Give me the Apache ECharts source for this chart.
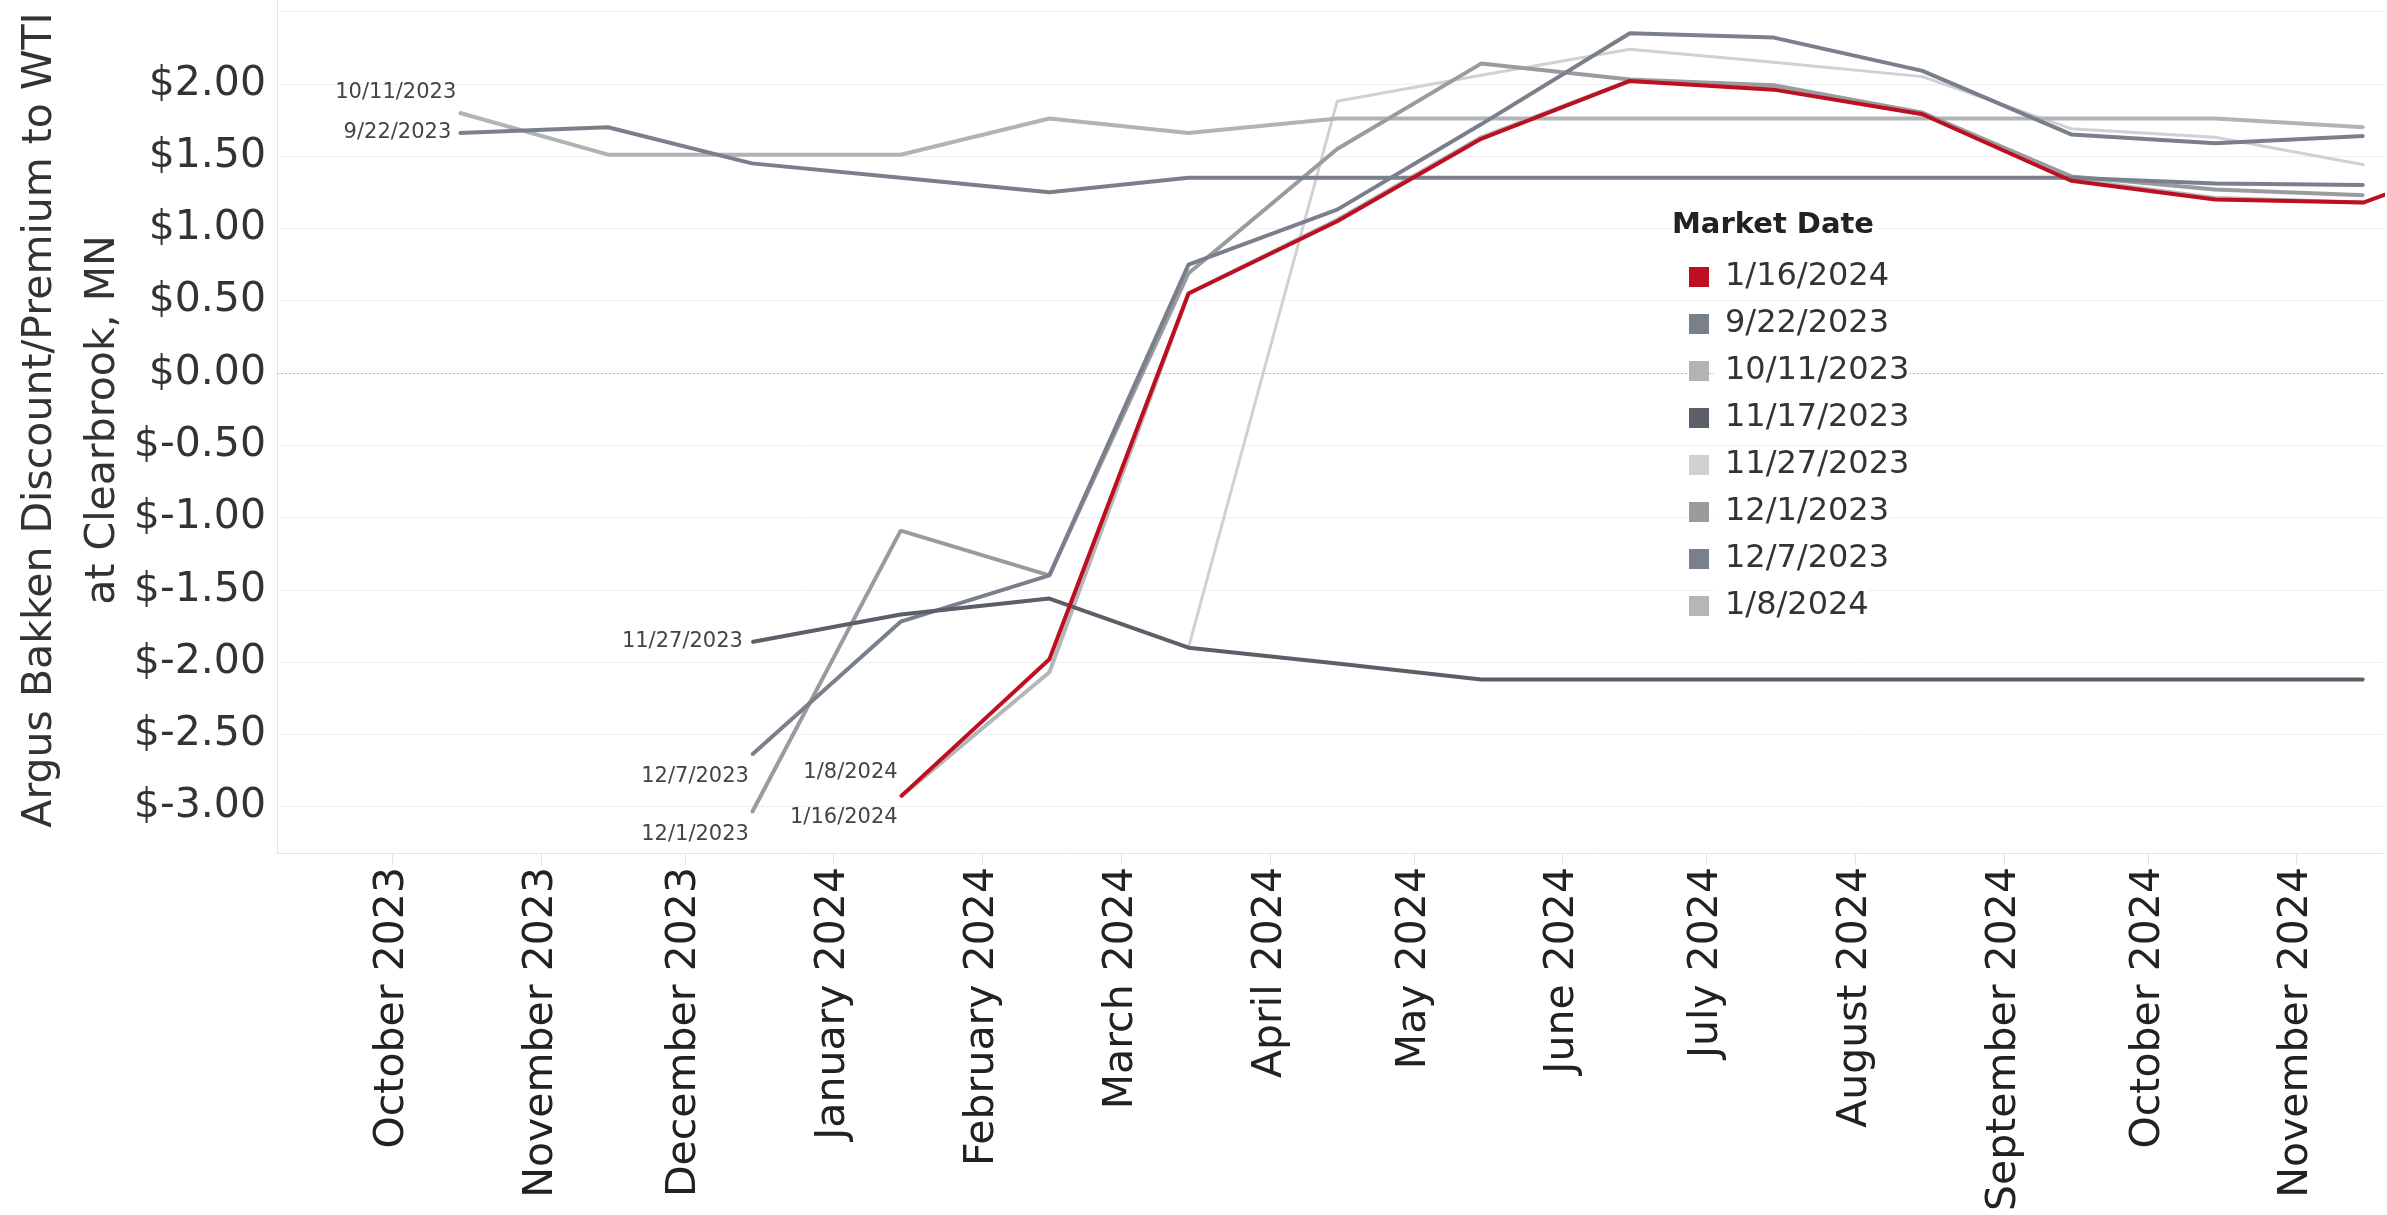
<!DOCTYPE html>
<html>
<head>
<meta charset="utf-8">
<title>Argus Bakken Discount/Premium to WTI at Clearbrook, MN</title>
<script src="https://cdn.jsdelivr.net/npm/echarts@6/dist/echarts.min.js"></script>
<style>
  html, body { margin: 0; padding: 0; background: #fff; }
  #chart { width: 2387px; height: 1215px; }
</style>
</head>
<body>
<div id="chart"></div>
<script>
// delivery months, plotted mid-month on a continuous date axis
var months = ['2023-10-15', '2023-11-15', '2023-12-15', '2024-01-15', '2024-02-15', '2024-03-15',
  '2024-04-15', '2024-05-15', '2024-06-15', '2024-07-15', '2024-08-15', '2024-09-15',
  '2024-10-15', '2024-11-15', '2024-12-15'];

var monthNames = ['January', 'February', 'March', 'April', 'May', 'June', 'July',
  'August', 'September', 'October', 'November', 'December'];

// legend order
var marketDates = ['1/16/2024', '9/22/2023', '10/11/2023', '11/17/2023', '11/27/2023', '12/1/2023', '12/7/2023', '1/8/2024'];

// $/bbl, one value per month above (null = no quote)
var md0116 = [null, null, null, -2.93, -1.98, 0.55, 1.05, 1.62, 2.02, 1.96, 1.79, 1.33, 1.20, 1.18, 1.55];
var md0922 = [1.66, 1.70, 1.45, 1.35, 1.25, 1.35, 1.35, 1.35, 1.35, 1.35, 1.35, 1.35, 1.31, 1.30, null];
var md1011 = [1.80, 1.51, 1.51, 1.51, 1.76, 1.66, 1.76, 1.76, 1.76, 1.76, 1.76, 1.76, 1.76, 1.70, null];
var md1117 = [null, null, -1.86, -1.67, -1.56, -1.90, -2.01, -2.12, -2.12, -2.12, -2.12, -2.12, -2.12, -2.12, null];
var md1127 = [null, null, -1.86, -1.67, -1.56, -1.90, 1.88, 2.06, 2.24, 2.15, 2.05, 1.69, 1.63, 1.44, null];
var md1201 = [null, null, -3.04, -1.09, -1.40, 0.69, 1.55, 2.14, 2.03, 1.99, 1.80, 1.36, 1.27, 1.23, null];
var md1207 = [null, null, -2.64, -1.72, -1.40, 0.75, 1.13, 1.72, 2.35, 2.32, 2.09, 1.65, 1.59, 1.64, null];
var md0108 = [null, null, null, -2.93, -2.07, 0.55, 1.06, 1.63, 2.02, 1.98, 1.80, 1.34, 1.21, 1.18, null];

var values = [md0116, md0922, md1011, md1117, md1127, md1201, md1207, md0108];
var colors = ['#bd0f1f', '#7a808b', '#b2b3b5', '#5c5f68', '#d0d1d2', '#9a9b9f', '#79808c', '#b5b6b8'];

// where the start-of-line date label goes (null = hidden, like the reference)
var startLabels = [
  { dx: 0, dy: 21, dist: 2 },
  { dx: 0, dy: 0, dist: 7 },
  { dx: 0, dy: -20, dist: 2 },
  null,
  { dx: 0, dy: 0, dist: 8 },
  { dx: 0, dy: 22, dist: 2 },
  { dx: 0, dy: 22, dist: 2 },
  { dx: 0, dy: -24, dist: 2 }
];

// paint order, bottom to top
var drawOrder = [4, 2, 7, 5, 1, 6, 3, 0];

var FONT = '"DejaVu Sans", Verdana, sans-serif';
var DAY = 86400000;

function buildData(idx) {
  var out = [];
  values[idx].forEach(function (v, i) {
    if (v === null) return;
    var item = { value: [months[i], v] };
    if (out.length === 0 && startLabels[idx]) {
      var lb = startLabels[idx];
      item.label = {
        show: true, position: 'left', distance: lb.dist, offset: [lb.dx, lb.dy],
        formatter: marketDates[idx], fontSize: 21, color: '#444', fontFamily: FONT
      };
    }
    out.push(item);
  });
  return out;
}

var series = drawOrder.map(function (idx, k) {
  var s = {
    name: marketDates[idx],
    type: 'line',
    data: buildData(idx),
    color: colors[idx],
    showSymbol: true,
    symbol: 'circle',
    symbolSize: 2,
    itemStyle: { color: colors[idx] },
    lineStyle: { color: colors[idx], width: idx === 4 ? 3 : 4 },
    label: { show: false },
    emphasis: { disabled: true },
    z: 2 + k * 0.01
  };
  if (k === 0) {
    // dotted zero reference line
    s.markLine = {
      silent: true, z: 1, symbol: ['none', 'none'],
      label: { show: false },
      lineStyle: { type: [2, 2], color: '#bdbdbd', width: 1 },
      data: [{ yAxis: 0 }]
    };
  }
  return s;
});

var chart = echarts.init(document.getElementById('chart'));
chart.setOption({
  animation: false,
  backgroundColor: '#ffffff',
  grid: { left: 277, right: 4, top: 0, bottom: 362, containLabel: false },
  xAxis: {
    type: 'time',
    min: new Date(2023, 8, 7).getTime(),
    max: new Date(2024, 10, 19).getTime(),
    splitNumber: 10,
    minInterval: 32 * DAY,
    maxInterval: 60 * DAY,
    axisLine: { show: true, onZero: false, lineStyle: { color: '#e4e4e4', width: 1 } },
    axisTick: { show: true, length: 12, lineStyle: { color: '#e4e4e4' } },
    splitLine: { show: false },
    axisLabel: {
      rotate: 90, margin: 14, fontSize: 41, color: '#222', fontFamily: FONT,
      showMinLabel: false, showMaxLabel: false,
      formatter: function (val) {
        var d = new Date(val);
        return monthNames[d.getMonth()] + ' ' + d.getFullYear();
      }
    }
  },
  yAxis: {
    type: 'value',
    min: -3.32,
    max: 2.58,
    splitNumber: 12,
    axisLine: { show: true, lineStyle: { color: '#e4e4e4', width: 1 } },
    axisTick: { show: false },
    axisLabel: {
      margin: 11, fontSize: 41, color: '#333', fontFamily: FONT,
      showMinLabel: false, showMaxLabel: false,
      // the top gridline's label is cropped off in the reference
      formatter: function (v) { return v > 2.25 ? '' : '$' + v.toFixed(2); }
    },
    splitLine: { show: true, showMinLine: false, showMaxLine: false, lineStyle: { color: '#efefef', width: 1 } }
  },
  legend: {
    data: marketDates,
    orient: 'vertical',
    left: 1684,
    top: 254,
    icon: 'rect',
    itemWidth: 20,
    itemHeight: 20,
    itemGap: 11,
    selectedMode: false,
    textStyle: {
      fontSize: 32, lineHeight: 36, color: '#333', fontFamily: FONT,
      padding: [0, 0, 0, 11], backgroundColor: '#ffffff'
    }
  },
  graphic: [
    {
      type: 'text', x: 72, y: 420, rotation: Math.PI / 2,
      style: {
        text: 'Argus Bakken Discount/Premium to WTI\nat Clearbrook, MN',
        font: '41px ' + FONT, fill: '#333', align: 'center', verticalAlign: 'middle', lineHeight: 63
      }
    },
    {
      type: 'text', x: 1672, y: 225, z: 10,
      style: {
        text: 'Market Date', font: 'bold 29px ' + FONT, fill: '#222', align: 'left', verticalAlign: 'middle',
        backgroundColor: '#ffffff', padding: [2, 4, 2, 0]
      }
    }
  ],
  series: series
});
</script>
</body>
</html>
